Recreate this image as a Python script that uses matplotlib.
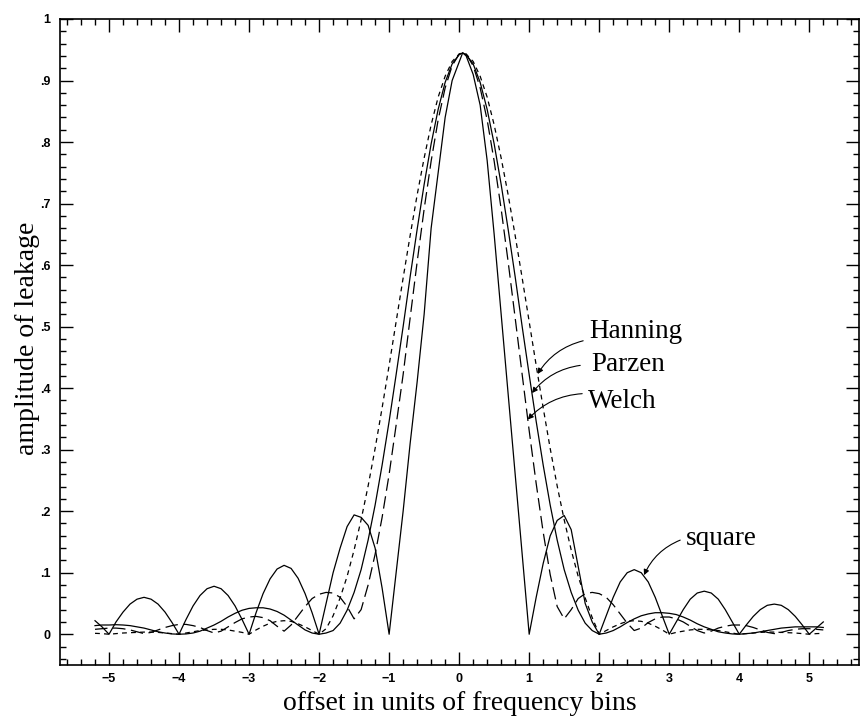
import numpy as np
import matplotlib
matplotlib.use("Agg")
import matplotlib.pyplot as plt
from matplotlib.ticker import FixedLocator, MultipleLocator, FixedFormatter

# ---------------- data ----------------
# offsets: -5.2 ... 0.0 step 0.1, the peak sample 0.05, then 0.1 ... 5.2
offset = np.concatenate([np.round(np.arange(-52, 1) / 10, 2), [0.05],
                         np.round(np.arange(1, 53) / 10, 2)])

square = [
    0.022, 0.012,
    0.0, 0.02, 0.036, 0.049, 0.057, 0.060, 0.057, 0.049, 0.036, 0.019,
    0.0, 0.024, 0.046, 0.063, 0.074, 0.078, 0.074, 0.063, 0.046, 0.024,
    0.0, 0.035, 0.066, 0.090, 0.106, 0.112, 0.107, 0.091, 0.066, 0.035,
    0.0, 0.05, 0.10, 0.14, 0.175, 0.194, 0.190, 0.177, 0.140, 0.075,
    0.0, 0.10, 0.20, 0.31, 0.41, 0.52, 0.66, 0.75, 0.84, 0.90,
    0.93, 0.945,
    0.94, 0.91, 0.86, 0.77, 0.65, 0.52, 0.39, 0.26, 0.13, 0.0,
    0.06, 0.115, 0.16, 0.185, 0.193, 0.17, 0.11, 0.05, 0.02, 0.0,
    0.03, 0.06, 0.085, 0.10, 0.105, 0.10, 0.085, 0.06, 0.03, 0.0,
    0.02, 0.04, 0.057, 0.067, 0.07, 0.067, 0.057, 0.04, 0.02, 0.0,
    0.015, 0.029, 0.04, 0.047, 0.049, 0.047, 0.04, 0.029, 0.015, 0.0,
    0.01, 0.02,
]

parzen = [
    0.014, 0.015,
    0.015, 0.0155, 0.015, 0.014, 0.012, 0.010, 0.007, 0.004, 0.002, 0.0005,
    0.0, 0.0005, 0.002, 0.005, 0.010, 0.015, 0.021, 0.028, 0.034, 0.039,
    0.042, 0.043, 0.043, 0.041, 0.037, 0.031, 0.023, 0.015, 0.007, 0.002,
    0.0, 0.002, 0.006, 0.018, 0.039, 0.068, 0.105, 0.153, 0.21, 0.275,
    0.346, 0.422, 0.50, 0.581, 0.658, 0.731, 0.797, 0.853, 0.897, 0.927,
    0.942, 0.945,
    0.942, 0.927, 0.897, 0.853, 0.797, 0.731, 0.658, 0.581, 0.50, 0.422,
    0.346, 0.275, 0.21, 0.153, 0.105, 0.068, 0.039, 0.018, 0.006, 0.0,
    0.002, 0.006, 0.012, 0.019, 0.025, 0.030, 0.033, 0.035, 0.035, 0.034,
    0.032, 0.028, 0.023, 0.017, 0.012, 0.008, 0.004, 0.002, 0.0005, 0.0,
    0.001, 0.002, 0.004, 0.006, 0.008, 0.010, 0.011, 0.012, 0.012, 0.012,
    0.012, 0.011,
]

hanning = [
    0.0015, 0.001,
    0.0, 0.001, 0.002, 0.0025, 0.003, 0.0035, 0.0035, 0.003, 0.002, 0.001,
    0.0, 0.002, 0.004, 0.006, 0.007, 0.008, 0.008, 0.007, 0.005, 0.003,
    0.0, 0.007, 0.013, 0.018, 0.021, 0.022, 0.021, 0.017, 0.012, 0.006,
    0.0, 0.009, 0.030, 0.059, 0.094, 0.137, 0.186, 0.241, 0.302, 0.368,
    0.437, 0.508, 0.579, 0.648, 0.714, 0.774, 0.828, 0.873, 0.907, 0.931,
    0.943, 0.945,
    0.943, 0.931, 0.907, 0.873, 0.828, 0.774, 0.714, 0.648, 0.579, 0.508,
    0.437, 0.368, 0.302, 0.241, 0.186, 0.137, 0.094, 0.059, 0.027, 0.0,
    0.006, 0.012, 0.017, 0.021, 0.022, 0.021, 0.018, 0.013, 0.007, 0.0,
    0.003, 0.005, 0.007, 0.008, 0.008, 0.007, 0.006, 0.004, 0.002, 0.0,
    0.001, 0.002, 0.003, 0.0035, 0.0035, 0.003, 0.0025, 0.002, 0.001, 0.0,
    0.001, 0.0015,
]

welch = [
    0.008, 0.009,
    0.010, 0.010, 0.009, 0.007, 0.004, 0.001, 0.003, 0.007, 0.011, 0.014,
    0.016, 0.016, 0.014, 0.011, 0.006, 0.002, 0.005, 0.012, 0.019, 0.025,
    0.028, 0.029, 0.027, 0.022, 0.013, 0.005, 0.015, 0.030, 0.045, 0.058,
    0.065, 0.068, 0.067, 0.060, 0.045, 0.025, 0.040, 0.080, 0.130, 0.190,
    0.26, 0.34, 0.422, 0.514, 0.605, 0.691, 0.769, 0.836, 0.888, 0.924,
    0.943, 0.945,
    0.943, 0.924, 0.888, 0.836, 0.769, 0.691, 0.605, 0.514, 0.422, 0.331,
    0.245, 0.166, 0.097, 0.045, 0.025, 0.040, 0.058, 0.066, 0.068, 0.066,
    0.060, 0.048, 0.033, 0.018, 0.006, 0.010, 0.019, 0.025, 0.028, 0.028,
    0.025, 0.020, 0.013, 0.006, 0.002, 0.005, 0.010, 0.013, 0.015, 0.015,
    0.014, 0.011, 0.007, 0.003, 0.001, 0.003, 0.006, 0.008, 0.009, 0.009,
    0.008, 0.007,
]

xtick_vals = [-5, -4, -3, -2, -1, 0, 1, 2, 3, 4, 5]
xtick_labels = ["\u22125", "\u22124", "\u22123", "\u22122", "\u22121", "0",
                "1", "2", "3", "4", "5"]
ytick_vals = [0, 0.1, 0.2, 0.3, 0.4, 0.5, 0.6, 0.7, 0.8, 0.9, 1.0]
ytick_labels = ["0", ".1", ".2", ".3", ".4", ".5", ".6", ".7", ".8", ".9", "1"]

# ---------------- figure ----------------
plt.rcParams["lines.scale_dashes"] = False
SERIF = "Liberation Serif"
SANS = "Liberation Sans"

fig = plt.figure(figsize=(8.61, 7.27), dpi=100)
ax = fig.add_axes([60 / 861, 1 - 665 / 727, (859 - 60) / 861, (665 - 19) / 727])

ax.plot(offset, square, color="k", lw=0.9)
ax.plot(offset, parzen, color="k", lw=0.9)
ax.plot(offset, welch, color="k", lw=0.9, dashes=(9, 4))
ax.plot(offset, hanning, color="k", lw=0.9, dashes=(3.5, 3))

ax.set_xlim(-5.7, 5.71)
ax.set_ylim(-0.05, 1.0)

ax.xaxis.set_major_locator(FixedLocator(xtick_vals))
ax.xaxis.set_major_formatter(FixedFormatter(xtick_labels))
ax.xaxis.set_minor_locator(MultipleLocator(0.2))
ax.yaxis.set_major_locator(FixedLocator(ytick_vals))
ax.yaxis.set_major_formatter(FixedFormatter(ytick_labels))
ax.yaxis.set_minor_locator(MultipleLocator(0.02))

ax.tick_params(which="both", direction="in", top=True, right=True,
               labeltop=False, labelright=False, width=1.0, color="k")
ax.tick_params(which="major", length=9.5)
ax.tick_params(which="minor", length=4.5)
ax.tick_params(axis="x", which="major", pad=6)
ax.tick_params(axis="y", which="major", pad=7)
for lab in ax.get_xticklabels() + ax.get_yticklabels():
    lab.set_fontfamily(SANS)
    lab.set_fontsize(9)
    lab.set_fontweight("bold")

for sp in ax.spines.values():
    sp.set_linewidth(1.2)

fig.text(460 / 861, 1 - 703 / 727, "offset in units of frequency bins",
         ha="center", va="center", fontsize=20, family=SERIF)
fig.text(28 / 861, 1 - 338 / 727, "amplitude of leakage", rotation=90,
         ha="center", va="center", fontsize=20, family=SERIF)

# annotations
labels = [
    ("Hanning", (1.857, 0.482), (1.771, 0.477), (1.12, 0.423)),
    ("Parzen", (1.886, 0.4286), (1.729, 0.437), (1.04, 0.392)),
    ("Welch", (1.843, 0.3685), (1.757, 0.391), (0.98, 0.349)),
    ("square", (3.243, 0.1445), (3.157, 0.153), (2.64, 0.096)),
]
for txt, tpos, start, tip in labels:
    ax.text(tpos[0], tpos[1], txt, ha="left", va="baseline",
            fontsize=19.5, family=SERIF)
    ax.annotate("", xy=tip, xytext=start,
                arrowprops=dict(arrowstyle="-|>", color="k", lw=0.8,
                                mutation_scale=8,
                                connectionstyle="arc3,rad=0.2",
                                shrinkA=0, shrinkB=0))

fig.savefig("out.png", dpi=100)
